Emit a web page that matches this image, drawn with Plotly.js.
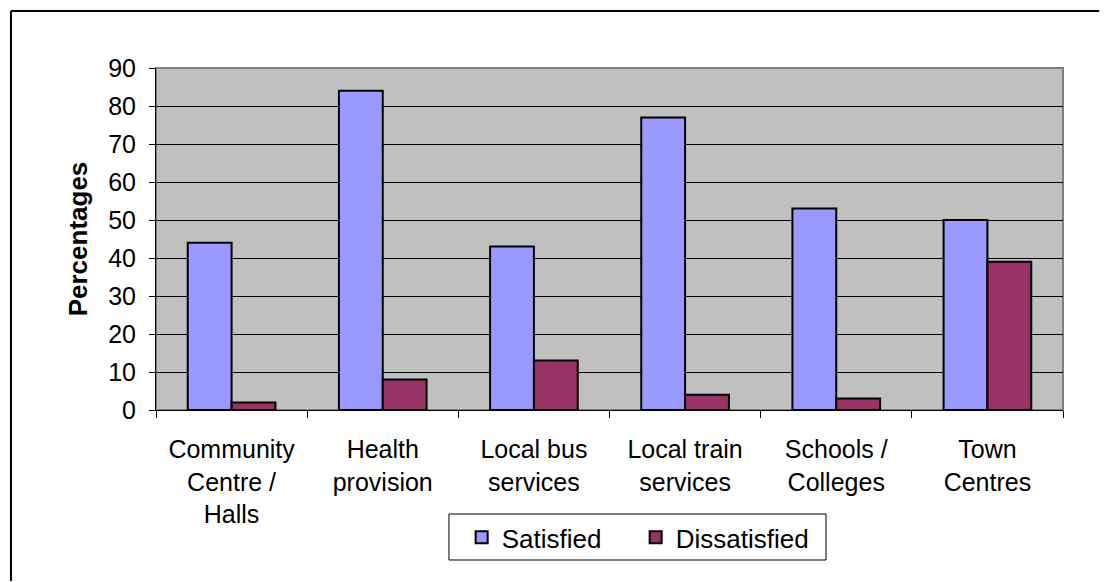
<!DOCTYPE html>
<html>
<head>
<meta charset="utf-8">
<script src="https://cdn.plot.ly/plotly-3.0.1.min.js"></script>
<style>html,body{margin:0;padding:0;background:#fff;overflow:hidden;}#chart{width:1105px;height:582px;}</style>
</head>
<body>
<div id="chart"></div>
<script>
const categories = ["Community<br>Centre /<br>Halls", "Health<br>provision", "Local bus<br>services", "Local train<br>services", "Schools /<br>Colleges", "Town<br>Centres"];
const satisfied = [44, 84, 43, 77, 53, 50];
const dissatisfied = [2, 8, 13, 4, 3, 39];
const seriesNames = ["Satisfied", "Dissatisfied"];
const yTitle = "Percentages";

const fam = "Liberation Sans, Arial, sans-serif";

const traces = [
  {type: "bar", name: seriesNames[0], x: categories, y: satisfied,
   marker: {color: "#9999FF", line: {color: "#000", width: 2}}},
  {type: "bar", name: seriesNames[1], x: categories, y: dissatisfied,
   marker: {color: "#993366", line: {color: "#000", width: 2}}}
];

const layout = {
  width: 1105, height: 582,
  margin: {l: 156, r: 42, t: 68, b: 172},
  paper_bgcolor: "#fff",
  plot_bgcolor: "#C0C0C0",
  font: {family: fam, size: 25, color: "#000"},
  barmode: "group",
  bargap: 0.42,
  bargroupgap: 0,
  showlegend: true,
  legend: {
    orientation: "h", x: 0.337, xanchor: "left", y: -0.304, yanchor: "top",
    bgcolor: "rgba(0,0,0,0)", borderwidth: 0,
    entrywidth: 129,
    font: {family: fam, size: 26, color: "#000"},
    itemclick: false
  },
  xaxis: {
    type: "category",
    tickson: "boundaries",
    ticks: "outside", ticklen: 7, tickcolor: "#000", tickwidth: 1,
    ticklabelstandoff: 17,
    showline: true, linecolor: "#000", linewidth: 1,
    showgrid: false, zeroline: false,
    tickfont: {family: fam, size: 25, color: "#000"},
    fixedrange: true
  },
  yaxis: {
    range: [0, 90], dtick: 10,
    ticks: "outside", ticklen: 6, tickcolor: "#000",
    ticklabelstandoff: 8,
    showline: true, linecolor: "#000", linewidth: 1,
    showgrid: true, gridcolor: "#000", gridwidth: 1,
    zeroline: false,
    tickfont: {family: fam, size: 25, color: "#000"},
    title: {text: "<b>" + yTitle + "</b>", font: {family: fam, size: 26, color: "#000"}, standoff: 13},
    fixedrange: true
  },
  shapes: [
    {type: "rect", xref: "paper", yref: "paper", x0: 0, x1: 1, y0: 0, y1: 1,
     line: {color: "#808080", width: 2}, layer: "below"},
    {type: "line", xref: "paper", yref: "paper", x0: -0.1599, x1: -0.1599, y0: -0.5, y1: 1.1667,
     line: {color: "#000", width: 2}},
    {type: "line", xref: "paper", yref: "paper", x0: -0.1599, x1: 1.04, y0: 1.1667, y1: 1.1667,
     line: {color: "#000", width: 2}},
    {type: "rect", xref: "paper", yref: "paper", x0: 0.323, x1: 0.7387, y0: -0.4386, y1: -0.3041,
     line: {color: "#000", width: 1}, fillcolor: "#fff", layer: "below"}
  ]
};

Plotly.newPlot("chart", traces, layout, {displayModeBar: false, staticPlot: true});
</script>
</body>
</html>
